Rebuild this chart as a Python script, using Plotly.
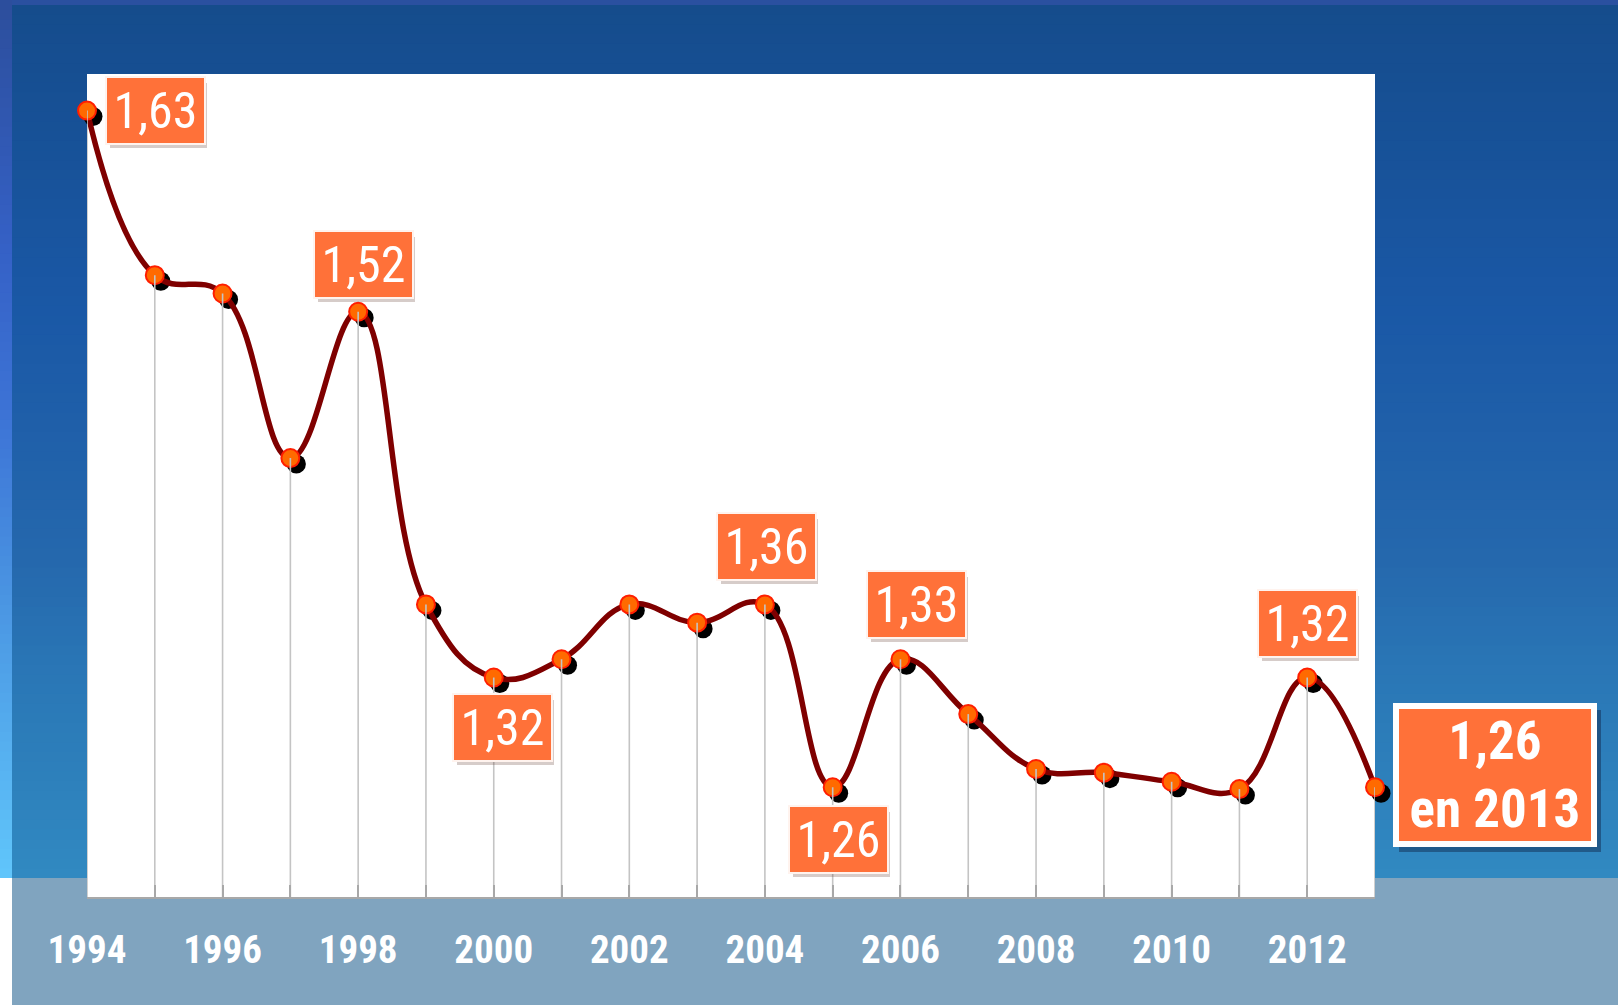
import plotly.graph_objects as go

# ---------------- data ----------------
years = list(range(1994, 2014))
values = [1.63, 1.54, 1.53, 1.44, 1.52, 1.36, 1.32, 1.33, 1.36, 1.35,
          1.36, 1.26, 1.33, 1.30, 1.27, 1.268, 1.263, 1.259, 1.32, 1.26]
labelled_years = [1994, 1998, 2000, 2004, 2005, 2006, 2012]
tick_years = list(range(1994, 2013, 2))
final_suffix = "en 2013"

# ---------------- layout geometry / style ----------------
W, H = 1618, 1005
L, T = 87, 74
PLOT_W, PLOT_H = 1288, 823
SH_X, SH_Y = 6, 6
P = PLOT_W + SH_X
Q = PLOT_H + SH_Y
R = W - L - P
B = H - T - Q
Y_RANGE = [1.2, 1.65]
X_RANGE = [1994, 2013]

NARROW = "Roboto Condensed, Liberation Sans Narrow, Arial Narrow, sans-serif"
ORANGE = "#ff7139"

label_shift = {1994: (68, 0), 1998: (5, 47), 2000: (9, -50), 2004: (2, 58),
               2005: (6, -52), 2006: (16, 55), 2012: (0, 54)}
final_shift = (120, 12)


def px(x):
    return (x - L) / P


def py(y):
    return 1 - (y - T) / Q


def hex2rgb(h):
    h = h.lstrip("#")
    return tuple(int(h[i:i + 2], 16) for i in (0, 2, 4))


def interp(stops, y):
    for (y0, c0), (y1, c1) in zip(stops, stops[1:]):
        if y0 <= y <= y1:
            t = (y - y0) / (y1 - y0) if y1 > y0 else 0
            a, b = hex2rgb(c0), hex2rgb(c1)
            return "rgb(%d,%d,%d)" % tuple(round(a[i] + (b[i] - a[i]) * t) for i in range(3))
    return stops[-1][1] if y > stops[-1][0] else stops[0][1]


shapes = []


def rect(x0, y0, x1, y1, color):
    shapes.append(dict(type="rect", xref="paper", yref="paper", layer="below",
                       x0=px(x0), x1=px(x1), y0=py(y1), y1=py(y0),
                       fillcolor=color, line=dict(width=0)))


main_stops = [(5, "#154c8c"), (310, "#1a58a6"), (560, "#2568ad"),
              (675, "#2a77b6"), (878, "#3189c1")]
left_stops = [(0, "#2c4e9c"), (250, "#3561c6"), (420, "#3d74d6"),
              (600, "#4a95e2"), (878, "#60c6fb")]

N = 90
y_top, y_bot = 5, 878
# each band runs to the bottom; later (lower) bands cover earlier ones -> no seams
for i in range(N):
    a = y_top + (y_bot - y_top) * i / N
    b = y_top + (y_bot - y_top) * (i + 1) / N
    rect(12, a, W, y_bot, interp(main_stops, (a + b) / 2))
for i in range(N):
    a = y_bot * i / N
    b = y_bot * (i + 1) / N
    rect(0, a, 12, y_bot, interp(left_stops, (a + b) / 2))
rect(12, 0, W, 5, "#2a50a0")
rect(12, 878, W, H, "#80a4bf")
rect(L, T, L + PLOT_W, T + PLOT_H, "#ffffff")

fig = go.Figure()

# shadow of markers (offset subplot x/y, drawn beneath the main subplot)
fig.add_trace(go.Scatter(x=years, y=values, xaxis="x", yaxis="y", mode="markers",
                         marker=dict(size=19, color="#000000"), cliponaxis=False,
                         hoverinfo="skip", showlegend=False))

# main curve
fig.add_trace(go.Scatter(x=years, y=values, xaxis="x2", yaxis="y2", mode="lines",
                         line=dict(color="#7f0000", width=5.5, shape="spline", smoothing=1.2),
                         cliponaxis=False, showlegend=False))
# markers
fig.add_trace(go.Scatter(x=years, y=values, xaxis="x2", yaxis="y2", mode="markers",
                         marker=dict(size=18, color="#ff6a00", line=dict(color="#ff1e00", width=2)),
                         cliponaxis=False, showlegend=False))
# drop lines
dx, dy = [], []
for yr, v in zip(years, values):
    dx += [yr, yr, None]
    dy += [v, Y_RANGE[0], None]
fig.add_trace(go.Scatter(x=dx, y=dy, xaxis="x2", yaxis="y2", mode="lines",
                         line=dict(color="#c4c4c4", width=1.6),
                         cliponaxis=False, hoverinfo="skip", showlegend=False))

annotations = []


def fmt(v):
    return f"{v:.2f}".replace(".", ",")


for yr in labelled_years:
    v = values[years.index(yr)]
    sx, sy = label_shift[yr]
    annotations.append(dict(x=yr, y=v, xref="x2", yref="y2", showarrow=False,
                            text=" ", xshift=sx + 3, yshift=sy - 5,
                            width=95, height=63, borderpad=0, borderwidth=2,
                            bgcolor="rgba(90,50,40,0.25)", bordercolor="rgba(0,0,0,0)",
                            font=dict(family=NARROW, size=10, color="rgba(0,0,0,0)")))
    annotations.append(dict(x=yr, y=v, xref="x2", yref="y2", showarrow=False,
                            text=fmt(v), xshift=sx, yshift=sy,
                            width=93, height=61, borderpad=2, borderwidth=2,
                            bgcolor=ORANGE, bordercolor="#fff3ee",
                            font=dict(family=NARROW, size=50, color="#ffffff")))

fy, fv = years[-1], values[-1]
ftext = fmt(fv) + "<br>" + final_suffix
annotations.append(dict(x=fy, y=fv, xref="x2", yref="y2", showarrow=False,
                        text=" ", xshift=final_shift[0] + 5, yshift=final_shift[1] - 6,
                        width=202, height=142, borderpad=0, borderwidth=0,
                        bgcolor="rgba(15,35,70,0.45)", bordercolor="rgba(0,0,0,0)",
                        font=dict(family=NARROW, size=10, color="rgba(0,0,0,0)")))
annotations.append(dict(x=fy, y=fv, xref="x2", yref="y2", showarrow=False,
                        text=ftext, xshift=final_shift[0], yshift=final_shift[1],
                        width=190, height=130, borderpad=1, borderwidth=6,
                        bgcolor=ORANGE, bordercolor="#ffffff",
                        font=dict(family=NARROW, size=53, color="#ffffff", weight="bold")))

fig.update_layout(
    width=W, height=H,
    margin=dict(l=L, r=R, t=T, b=B, pad=0),
    paper_bgcolor="#ffffff",
    plot_bgcolor="rgba(0,0,0,0)",
    showlegend=False,
    shapes=shapes,
    annotations=annotations,
    xaxis=dict(domain=[SH_X / P, 1], anchor="y", range=X_RANGE, visible=False),
    yaxis=dict(domain=[0, 1 - SH_Y / Q], anchor="x", range=Y_RANGE, visible=False),
    xaxis2=dict(domain=[0, PLOT_W / P], anchor="y2", range=X_RANGE,
                tickmode="array", tickvals=tick_years, ticktext=[str(t) for t in tick_years],
                ticks="inside", ticklen=12, tickwidth=2, tickcolor="#a8a8a8",
                showline=True, linecolor="#a8a8a8", linewidth=2,
                showgrid=False, zeroline=False, ticklabelstandoff=17,
                tickfont=dict(family=NARROW, size=39, color="#ffffff", weight="bold"),
                minor=dict(tickvals=years, ticks="inside", ticklen=12, tickwidth=2,
                           tickcolor="#a8a8a8", showgrid=False)),
    yaxis2=dict(domain=[SH_Y / Q, 1], anchor="x2", range=Y_RANGE, visible=False),
)

fig.write_html("out.html", config={"displayModeBar": False},
               post_script="document.body.style.margin='0px';")
